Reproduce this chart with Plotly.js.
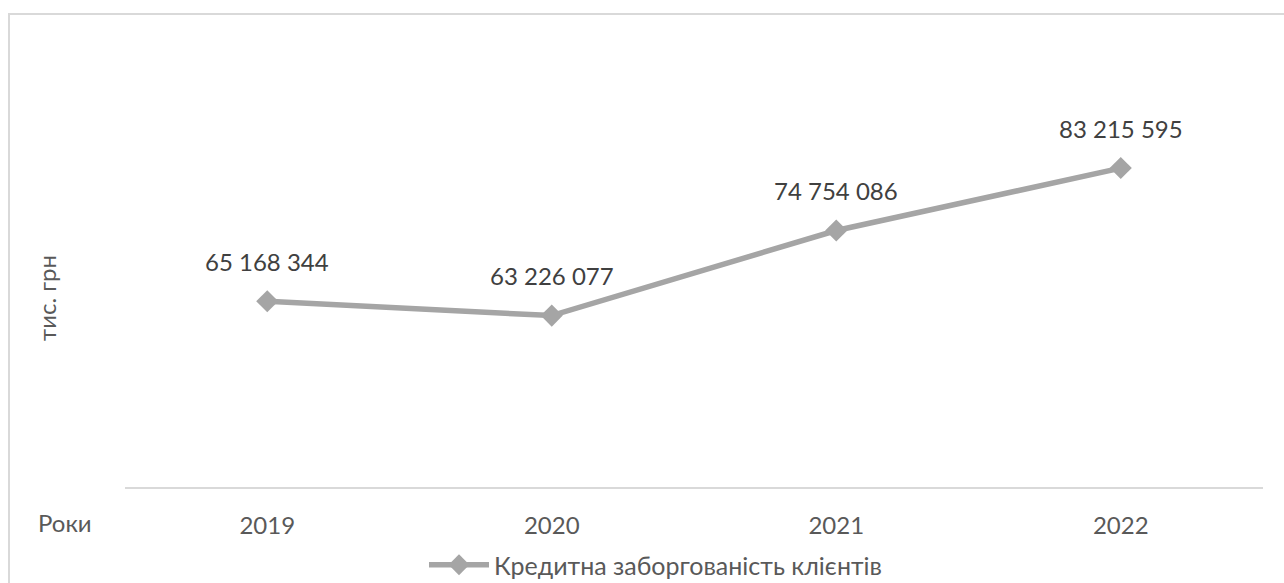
<!DOCTYPE html>
<html>
<head>
<meta charset="utf-8">
<script src="https://cdn.plot.ly/plotly-3.0.1.min.js"></script>
<style>
html,body{margin:0;padding:0;background:#fff;}
#chart{width:1284px;height:583px;}
</style>
</head>
<body>
<div id="chart"></div>
<script>
const years = ['2019', '2020', '2021', '2022'];
const values = [65168344, 63226077, 74754086, 83215595];
const seriesName = 'Кредитна заборгованість клієнтів';
const yTitle = 'тис. грн';
const xTitle = 'Роки';

const W = 1284, H = 583;
const mL = 125, mR = 21, mT = 118, mB = 96;
const pw = W - mL - mR, ph = H - mT - mB;
const px = x => (x - mL) / pw;
const py = y => (H - mB - y) / ph;

const fmt = v => String(v).replace(/\B(?=(\d{3})+(?!\d))/g, ' ');

const trace = {
  type: 'scatter',
  mode: 'lines+markers',
  x: years,
  y: values,
  name: seriesName,
  line: {color: '#a5a5a5', width: 5.5},
  marker: {symbol: 'diamond', size: 17, color: '#a5a5a5'},
  cliponaxis: false,
  hoverinfo: 'skip'
};

const labelAnns = years.map((yr, i) => ({
  x: i, y: values[i], xref: 'x', yref: 'y',
  text: fmt(values[i]), showarrow: false,
  xanchor: 'center', yanchor: 'middle', yshift: 40,
  font: {size: 24, color: '#404040'}
}));

const layout = {
  width: W, height: H,
  margin: {l: mL, r: mR, t: mT, b: mB, autoexpand: false},
  paper_bgcolor: '#ffffff',
  plot_bgcolor: '#ffffff',
  font: {family: 'Lato, Carlito, sans-serif', color: '#595959', size: 24},
  showlegend: true,
  legend: {
    orientation: 'h', x: px(656), xanchor: 'center',
    y: py(565), yanchor: 'middle',
    font: {size: 25, color: '#595959'},
    itemwidth: 60
  },
  xaxis: {
    type: 'category',
    range: [-0.5, 3.5],
    automargin: false,
    showline: true, linecolor: '#d9d9d9', linewidth: 2,
    showgrid: false, zeroline: false, ticks: '',
    tickfont: {size: 24, color: '#595959'},
    ticklabelstandoff: 16,
    fixedrange: true
  },
  yaxis: {
    range: [40000000, 90000000],
    automargin: false,
    showline: false, showgrid: false, zeroline: false,
    showticklabels: false, ticks: '',
    fixedrange: true
  },
  annotations: labelAnns.concat([
    {text: xTitle, xref: 'paper', yref: 'paper', x: px(65), y: py(522),
     xanchor: 'center', yanchor: 'middle', showarrow: false,
     font: {size: 24, color: '#595959'}},
    {text: yTitle, xref: 'paper', yref: 'paper', x: px(46), y: py(298),
     xanchor: 'center', yanchor: 'middle', showarrow: false, textangle: -90,
     font: {size: 24, color: '#595959'}}
  ]),
  shapes: [
    {type: 'rect', xref: 'paper', yref: 'paper',
     x0: px(9), x1: px(1320), y0: py(640), y1: py(14),
     line: {color: '#d9d9d9', width: 2}, fillcolor: 'rgba(0,0,0,0)', layer: 'below'}
  ]
};

Plotly.newPlot('chart', [trace], layout, {displayModeBar: false, staticPlot: true});
</script>
</body>
</html>
